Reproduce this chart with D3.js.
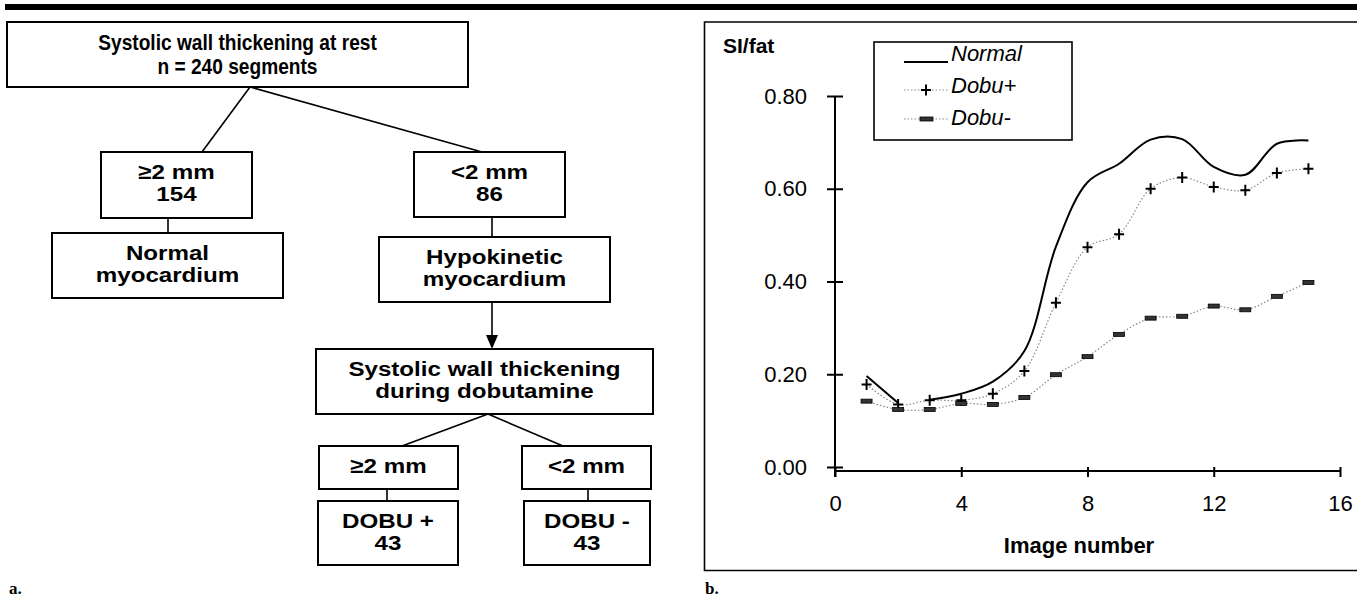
<!DOCTYPE html>
<html>
<head>
<meta charset="utf-8">
<script src="https://cdn.jsdelivr.net/npm/d3@7/dist/d3.min.js"></script>
<style>
  body { margin: 0; background: #fff; }
  svg { display: block; font-family: "Liberation Sans", Arial, sans-serif; }
</style>
</head>
<body>
<svg id="fig" width="1357" height="600"></svg>
<script>
// panel b data
var imageNumbers = [1, 2, 3, 4, 5, 6, 7, 8, 9, 10, 11, 12, 13, 14, 15];
var normal = [0.196, 0.138, 0.145, 0.158, 0.184, 0.25, 0.475, 0.614, 0.654, 0.706, 0.707, 0.647, 0.630, 0.697, 0.704];
var dobuPlus = [0.178, 0.135, 0.144, 0.144, 0.158, 0.207, 0.354, 0.474, 0.502, 0.600, 0.624, 0.604, 0.597, 0.634, 0.643];
var dobuMinus = [0.142, 0.124, 0.124, 0.137, 0.135, 0.150, 0.199, 0.238, 0.286, 0.321, 0.325, 0.347, 0.339, 0.368, 0.398];
var xTicks = [0, 4, 8, 12, 16];
var yTicks = [0, 0.2, 0.4, 0.6, 0.8];
var seriesNames = ['Normal', 'Dobu+', 'Dobu-'];

// panel a labels
var flowLabels = {
  rest: ['Systolic wall thickening at rest', 'n = 240 segments'],
  ge2: ['\u22652 mm', '154'],
  lt2: ['<2 mm', '86'],
  normal: ['Normal', 'myocardium'],
  hypo: ['Hypokinetic', 'myocardium'],
  dobu: ['Systolic wall thickening', 'during dobutamine'],
  dge2: ['\u22652 mm'],
  dlt2: ['<2 mm'],
  dplus: ['DOBU +', '43'],
  dminus: ['DOBU -', '43']
};

var svg = d3.select('#fig');

// thick rule across the top
svg.append('rect')
  .attr('x', 5).attr('y', 4)
  .attr('width', 1352).attr('height', 6)
  .style('fill', '#000');

// ---------- panel a: flowchart ----------
var boxes = {
  rest:   { x: 7,   y: 22,  w: 461, h: 65 },
  ge2:    { x: 101, y: 152, w: 151, h: 66 },
  lt2:    { x: 414, y: 152, w: 151, h: 65 },
  normal: { x: 52,  y: 233, w: 231, h: 65 },
  hypo:   { x: 379, y: 237, w: 231, h: 65 },
  dobu:   { x: 316, y: 349, w: 337, h: 65 },
  dge2:   { x: 319, y: 446, w: 139, h: 43 },
  dlt2:   { x: 522, y: 446, w: 129, h: 43 },
  dplus:  { x: 318, y: 501, w: 140, h: 64 },
  dminus: { x: 524, y: 501, w: 126, h: 64 }
};

var links = [
  [250, 87, 202, 152], [250, 87, 482, 152],
  [168, 218, 168, 233], [492, 217, 492, 237],
  [492, 302, 492, 336],
  [488, 414, 402, 446], [488, 414, 563, 446],
  [387, 489, 387, 501], [588, 489, 588, 501]
];

var flow = svg.append('g');

flow.selectAll('line.link')
  .data(links)
  .enter().append('line')
    .attr('class', 'link')
    .attr('x1', d => d[0]).attr('y1', d => d[1])
    .attr('x2', d => d[2]).attr('y2', d => d[3])
    .style('stroke', '#000')
    .style('stroke-width', 1.6);

// arrow head into the dobutamine box
flow.append('path')
  .attr('d', 'M486,335 L498,335 L492,349 Z')
  .style('fill', '#000');

var boxIds = Object.keys(flowLabels);

boxIds.forEach(function(id) {
  var b = boxes[id];
  var big = id === 'rest';
  flow.append('rect')
    .attr('x', b.x).attr('y', b.y)
    .attr('width', b.w).attr('height', b.h)
    .style('fill', '#fff')
    .style('stroke', '#000')
    .style('stroke-width', 2);

  flowLabels[id].forEach(function(txt, i) {
    var base = b.y + (big ? 28 + i * 24 : 27 + i * 22);
    flow.append('g')
      .attr('transform', `translate(${b.x + b.w / 2}, ${base}) scale(${big ? 0.87 : 1.15}, 1)`)
      .append('text')
        .attr('text-anchor', 'middle')
        .style('font-weight', 'bold')
        .style('font-size', big ? '22px' : '21px')
        .text(txt);
  });
});

// ---------- panel b: line chart ----------
// frame (right side runs off the page)
svg.append('path')
  .attr('d', 'M1357,22 L704.5,22 L704.5,570.5 L1357,570.5')
  .style('fill', 'none')
  .style('stroke', '#000')
  .style('stroke-width', 1.6);

var xScale = d3.scaleLinear()
  .domain([0, 16])
  .range([835, 1340]);

var yScale = d3.scaleLinear()
  .domain([0, 0.8])
  .range([467, 96]);

var yAxis = d3.axisLeft(yScale)
  .tickValues(yTicks)
  .tickFormat(d3.format('.2f'))
  .tickSize(8)
  .tickPadding(20);

svg.append('g')
    .attr('transform', `translate(${xScale(0)}, 0)`)
    .call(yAxis)
    .call(g => g.select('.domain').remove())
    .call(g => g.selectAll('.tick line').attr('x1', -8).attr('x2', 8).style('stroke-width', 2))
    .call(g => g.selectAll('.tick text').style('font-size', '22px').style('fill', '#000'))
    .attr('font-family', null);

var xAxisY = yScale(0) + 4;

var xAxis = d3.axisBottom(xScale)
  .tickValues(xTicks)
  .tickSize(5)
  .tickPadding(19);

svg.append('g')
    .attr('transform', `translate(0, ${xAxisY})`)
    .call(xAxis)
    .call(g => g.select('.domain').remove())
    .call(g => g.selectAll('.tick line').attr('y1', -4).attr('y2', 6).style('stroke-width', 2))
    .call(g => g.selectAll('.tick text').style('font-size', '22px').style('fill', '#000'))
    .attr('font-family', null);

// axis lines
svg.append('line')
  .attr('x1', xScale(0)).attr('x2', xScale(0))
  .attr('y1', yScale(0.8)).attr('y2', xAxisY + 6)
  .style('stroke', '#000').style('stroke-width', 2);

svg.append('line')
  .attr('x1', xScale(0)).attr('x2', xScale(16))
  .attr('y1', xAxisY).attr('y2', xAxisY)
  .style('stroke', '#000').style('stroke-width', 2);

svg.append('text')
  .attr('x', 723).attr('y', 53)
  .style('font-weight', 'bold')
  .style('font-size', '21px')
  .text('SI/fat');

svg.append('text')
  .attr('x', 1079).attr('y', 553)
  .attr('text-anchor', 'middle')
  .style('font-weight', 'bold')
  .style('font-size', '22px')
  .text('Image number');

var smooth = d3.line()
  .x(d => xScale(d[0]))
  .y(d => yScale(d[1]))
  .curve(d3.curveCatmullRom);

var pairs = function(vals) {
  return imageNumbers.map((n, i) => [n, vals[i]]);
};

// dotted series lines
[dobuPlus, dobuMinus].forEach(function(vals) {
  svg.append('path')
    .attr('d', smooth(pairs(vals)))
    .style('fill', 'none')
    .style('stroke', '#8a8a8a')
    .style('stroke-width', 1.2)
    .style('stroke-dasharray', '1.5,2');
});

// normal line has a break between image 2 and 3
var normalPts = pairs(normal);
[normalPts.slice(0, 2), normalPts.slice(2)].forEach(function(seg) {
  svg.append('path')
    .attr('d', smooth(seg))
    .style('fill', 'none')
    .style('stroke', '#000')
    .style('stroke-width', 2);
});

// markers
var plus = 'M-5,0 L5,0 M0,-5.5 L0,5.5';

svg.selectAll('path.plus')
  .data(pairs(dobuPlus))
  .enter().append('path')
    .attr('class', 'plus')
    .attr('d', plus)
    .attr('transform', d => `translate(${xScale(d[0])}, ${yScale(d[1])})`)
    .style('stroke', '#000')
    .style('stroke-width', 2);

svg.selectAll('rect.minus')
  .data(pairs(dobuMinus))
  .enter().append('rect')
    .attr('class', 'minus')
    .attr('x', d => xScale(d[0]) - 5.5)
    .attr('y', d => yScale(d[1]) - 2)
    .attr('width', 11).attr('height', 4)
    .style('fill', '#333')
    .style('stroke', '#000')
    .style('stroke-width', 0.8);

// legend
var legend = svg.append('g');

legend.append('rect')
  .attr('x', 874).attr('y', 42)
  .attr('width', 198).attr('height', 98)
  .style('fill', '#fff')
  .style('stroke', '#000')
  .style('stroke-width', 1.6);

var legendRows = [62, 90, 119];

legend.append('line')
  .attr('x1', 904).attr('x2', 948)
  .attr('y1', legendRows[0]).attr('y2', legendRows[0])
  .style('stroke', '#000').style('stroke-width', 2);

[1, 2].forEach(function(i) {
  legend.append('line')
    .attr('x1', 904).attr('x2', 948)
    .attr('y1', legendRows[i]).attr('y2', legendRows[i])
    .style('stroke', '#8a8a8a').style('stroke-width', 1.2)
    .style('stroke-dasharray', '1.5,2');
});

legend.append('path')
  .attr('d', plus)
  .attr('transform', `translate(926, ${legendRows[1]})`)
  .style('stroke', '#000').style('stroke-width', 2);

legend.append('rect')
  .attr('x', 920).attr('y', legendRows[2] - 2)
  .attr('width', 13).attr('height', 4)
  .style('fill', '#333').style('stroke', '#000').style('stroke-width', 0.8);

legend.selectAll('text')
  .data(seriesNames)
  .enter().append('text')
    .attr('x', 951)
    .attr('y', (d, i) => [61, 93, 125][i])
    .style('font-style', 'italic')
    .style('font-size', '22px')
    .text(d => d);

// panel letters
svg.append('text')
  .attr('x', 9).attr('y', 594)
  .style('font-family', '"Liberation Serif", "Times New Roman", serif')
  .style('font-weight', 'bold')
  .style('font-size', '17px')
  .text('a.');

svg.append('text')
  .attr('x', 705).attr('y', 594)
  .style('font-family', '"Liberation Serif", "Times New Roman", serif')
  .style('font-weight', 'bold')
  .style('font-size', '17px')
  .text('b.');
</script>
</body>
</html>
